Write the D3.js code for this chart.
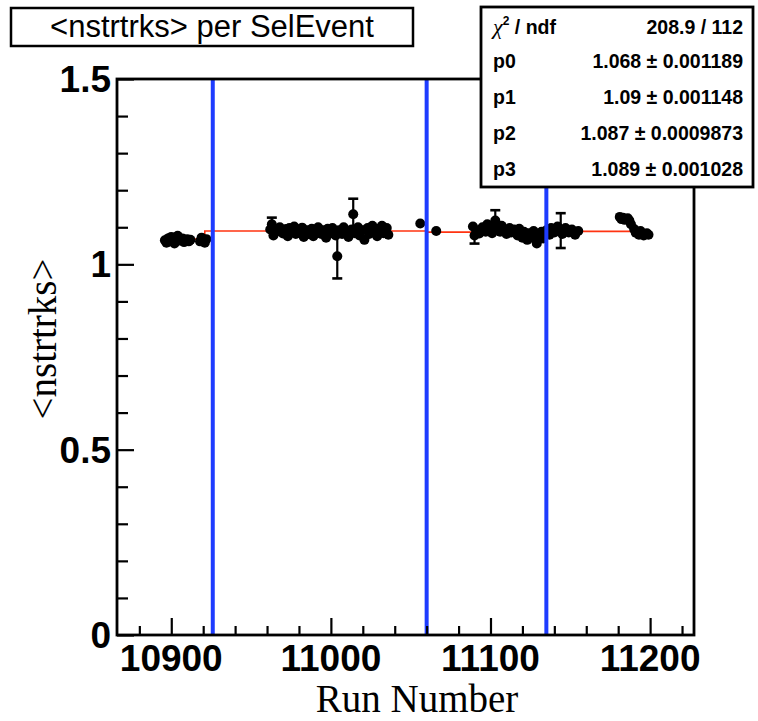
<!DOCTYPE html>
<html><head><meta charset="utf-8">
<script src="https://cdn.jsdelivr.net/npm/d3@7"></script>
<style>body{margin:0;background:#fff}svg{display:block}</style>
</head><body><svg id="c" width="758" height="721"></svg>
<script>
// ---- data ----
const runs = [10896,10897,10898,10899,10900,10902,10903,10904,10905,10907,10908,10910,10911,10912,
10918,10919,10921,10922,
10962,10963,10964,10966,10968,10970,10972,10973,10974,10975,10977,10978,10979,10981,10982,10983,10985,10986,10988,10989,10991,10992,10994,10995,10997,10998,11000,11001,11003,11004,11005,11007,11008,11010,11011,11013,11014,11015,11017,11018,11020,11021,11023,11024,11026,11027,11029,11030,11032,11033,11035,11036,
11056,11066,
11089,11090,11091,11093,11095,11097,11098,11100,11101,11103,11104,11106,11107,11109,11110,11112,11113,11115,11117,11118,11120,11121,11123,11124,11126,11127,11129,11130,11132,11133,11135,11137,11138,11140,11142,11144,11145,11147,11149,11151,11153,11155,
11181,11182,11183,11184,11186,11187,11188,11190,11191,11193,11194,11196,11198,11199];
const values = [1.065,1.058,1.070,1.062,1.074,1.056,1.073,1.077,1.064,1.070,1.060,1.068,1.062,1.066,
1.062,1.072,1.058,1.068,
1.094,1.108,1.078,1.088,1.100,1.083,1.095,1.076,1.098,1.088,1.102,1.082,1.094,1.084,1.099,1.074,1.092,1.082,1.096,1.076,1.088,1.100,1.082,1.092,1.072,1.096,1.084,1.098,1.078,1.022,1.092,1.082,1.100,1.088,1.074,1.094,1.135,1.084,1.100,1.078,1.092,1.066,1.098,1.082,1.104,1.086,1.076,1.096,1.104,1.084,1.098,1.080,
1.110,1.090,
1.102,1.078,1.092,1.083,1.100,1.088,1.108,1.096,1.084,1.118,1.100,1.088,1.104,1.094,1.082,1.098,1.086,1.094,1.078,1.096,1.072,1.088,1.066,1.084,1.072,1.090,1.056,1.078,1.088,1.070,1.092,1.080,1.098,1.086,1.102,1.091,1.082,1.098,1.086,1.094,1.080,1.090,
1.128,1.122,1.126,1.120,1.124,1.118,1.108,1.095,1.085,1.080,1.090,1.078,1.084,1.080];
const errors = [0.004,0.004,0.004,0.005,0.004,0.005,0.004,0.004,0.004,0.005,0.004,0.004,0.004,0.004,
0.004,0.004,0.004,0.005,
0.006,0.018,0.007,0.006,0.010,0.005,0.005,0.006,0.005,0.005,0.006,0.005,0.004,0.005,0.005,0.006,0.004,0.005,0.005,0.006,0.004,0.005,0.005,0.004,0.006,0.005,0.004,0.005,0.005,0.060,0.005,0.004,0.006,0.005,0.006,0.005,0.042,0.005,0.005,0.006,0.004,0.008,0.005,0.005,0.006,0.004,0.006,0.005,0.006,0.005,0.005,0.006,
0.005,0.005,
0.006,0.022,0.005,0.006,0.005,0.005,0.006,0.005,0.005,0.028,0.005,0.005,0.006,0.005,0.005,0.005,0.005,0.004,0.006,0.005,0.006,0.005,0.006,0.005,0.006,0.005,0.008,0.005,0.005,0.006,0.005,0.006,0.005,0.005,0.006,0.047,0.005,0.006,0.005,0.005,0.006,0.005,
0.005,0.005,0.004,0.005,0.005,0.005,0.005,0.005,0.005,0.005,0.005,0.004,0.005,0.005];
const periodBoundaries = [10926, 11060, 11135];
const fitEdges = [10896, 10921, 11060, 11135, 11199];
const fitParams = [1.068, 1.09, 1.087, 1.089];
const xTicks = [10900, 11000, 11100, 11200];
const yTicks = [0, 0.5, 1, 1.5];
const xDomain = [10866, 11227.5];
const yDomain = [0, 1.5];
const title = "<nstrtrks> per SelEvent";
const xTitle = "Run Number";
const yTitle = "<nstrtrks>";
const statNames = ["ndf", "p0", "p1", "p2", "p3"];
const statValues = ["208.9 / 112", "1.068 \u00b1 0.001189", "1.09 \u00b1 0.001148", "1.087 \u00b1 0.0009873", "1.089 \u00b1 0.001028"];

// ---- drawing ----
const svg = d3.select("#c");
const L = 117, R = 694, T = 79, B = 635;
const x = d3.scaleLinear().domain(xDomain).range([L, R]);
const y = d3.scaleLinear().domain(yDomain).range([B, T]);
const sans = "'Liberation Sans', Arial, Helvetica, sans-serif";
const serif = "'Liberation Serif', 'Times New Roman', serif";

// fit line (under points)
const fitPts = [];
fitParams.forEach((p, i) => { fitPts.push([fitEdges[i], p]); fitPts.push([fitEdges[i + 1], p]); });
svg.append("path").attr("d", d3.line().x(d => x(d[0])).y(d => y(d[1]))(fitPts))
  .attr("fill", "none").attr("stroke", "#ff3311").attr("stroke-width", 1.6);

// points with error bars
const pts = runs.map((r, i) => ({ r, v: values[i], e: errors[i] }));
const g = svg.append("g");
g.selectAll("line.eb").data(pts).join("line").attr("class", "eb")
  .attr("x1", d => x(d.r)).attr("x2", d => x(d.r))
  .attr("y1", d => y(d.v - d.e)).attr("y2", d => y(d.v + d.e))
  .attr("stroke", "#000").attr("stroke-width", 2.2);
["lo", "hi"].forEach(k => {
  g.selectAll("line.c" + k).data(pts.filter(d => d.e > 0.012)).join("line").attr("class", "c" + k)
    .attr("x1", d => x(d.r) - 5).attr("x2", d => x(d.r) + 5)
    .attr("y1", d => y(k === "lo" ? d.v - d.e : d.v + d.e)).attr("y2", d => y(k === "lo" ? d.v - d.e : d.v + d.e))
    .attr("stroke", "#000").attr("stroke-width", 2.6);
});
g.selectAll("circle").data(pts).join("circle")
  .attr("cx", d => x(d.r)).attr("cy", d => y(d.v)).attr("r", 5).attr("fill", "#000");

// blue period lines
svg.selectAll("line.blue").data(periodBoundaries).join("line").attr("class", "blue")
  .attr("x1", d => x(d)).attr("x2", d => x(d)).attr("y1", y(yDomain[0])).attr("y2", y(yDomain[1]))
  .attr("stroke", "#1e3cff").attr("stroke-width", 4);

// axes (ticks inside frame)
const xAxis = d3.axisTop(x).tickValues(xTicks).tickSize(17).tickFormat("");
const xAxisMinor = d3.axisTop(x).tickValues(d3.range(10880, 11227, 20).filter(v => !xTicks.includes(v))).tickSize(9).tickFormat("");
const yAxis = d3.axisRight(y).tickValues(yTicks).tickSize(17).tickFormat("");
const yAxisMinor = d3.axisRight(y).tickValues(d3.range(0, 1.51, 0.1).filter(v => !yTicks.some(t => Math.abs(t - v) < 1e-6))).tickSize(11).tickFormat("");
[[xAxis, `translate(0,${B})`], [xAxisMinor, `translate(0,${B})`], [yAxis, `translate(${L},0)`], [yAxisMinor, `translate(${L},0)`]].forEach(([ax, tr]) => {
  const a = svg.append("g").attr("transform", tr).call(ax);
  a.select(".domain").remove();
  a.selectAll("line").attr("stroke", "#000").attr("stroke-width", 2.2);
});
// frame
svg.append("rect").attr("x", L).attr("y", T).attr("width", R - L).attr("height", B - T)
  .attr("fill", "none").attr("stroke", "#000").attr("stroke-width", 2.8);

// tick labels
svg.selectAll("text.xl").data(xTicks).join("text").attr("class", "xl")
  .attr("x", d => x(d)).attr("y", 671).attr("text-anchor", "middle")
  .attr("font-family", sans).attr("font-weight", "bold").attr("font-size", 37).attr("fill", "#000").text(d => d);
svg.selectAll("text.yl").data(yTicks).join("text").attr("class", "yl")
  .attr("x", 111).attr("y", d => y(d) + 13).attr("text-anchor", "end")
  .attr("font-family", sans).attr("font-weight", "bold").attr("font-size", 37).attr("fill", "#000").text(d => d);

// axis titles
svg.append("text").attr("x", 417).attr("y", 712).attr("text-anchor", "middle")
  .attr("font-family", serif).attr("font-size", 39).text(xTitle);
svg.append("text").attr("transform", "translate(56,339) rotate(-90)").attr("text-anchor", "middle")
  .attr("font-family", serif).attr("font-size", 39).text(yTitle);

// title box
svg.append("rect").attr("x", 11).attr("y", 8).attr("width", 402).attr("height", 38)
  .attr("fill", "#fff").attr("stroke", "#000").attr("stroke-width", 2.5);
svg.append("text").attr("x", 212).attr("y", 37).attr("text-anchor", "middle")
  .attr("font-family", sans).attr("font-size", 31).attr("fill", "#000").text(title);

// stats box
svg.append("rect").attr("x", 481).attr("y", 7).attr("width", 272).attr("height", 180)
  .attr("fill", "#fff").attr("stroke", "#000").attr("stroke-width", 2.8);
const rowY = [34, 68, 104, 140, 176];
statNames.forEach((n, i) => {
  const t = svg.append("text").attr("x", 493).attr("y", rowY[i]).attr("font-family", sans)
    .attr("font-size", 19.5).attr("font-weight", "bold");
  if (i === 0) {
    t.append("tspan").attr("font-family", serif).attr("font-style", "italic").attr("font-weight", "normal").attr("font-size", 22).text("\u03c7");
    t.append("tspan").attr("font-size", 12).attr("dy", -9).text("2");
    t.append("tspan").attr("dy", 9).text(" / " + n);
  } else t.text(n);
  svg.append("text").attr("x", 743).attr("y", rowY[i]).attr("text-anchor", "end").attr("font-family", sans)
    .attr("font-size", 19.5).attr("font-weight", "bold").text(statValues[i]);
});
</script></body></html>
